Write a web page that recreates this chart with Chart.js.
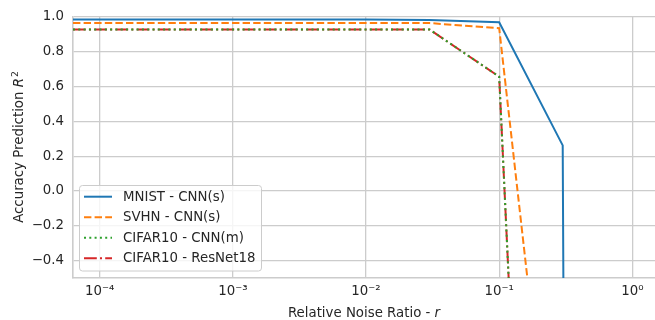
<!DOCTYPE html>
<html>
<head>
<meta charset="utf-8">
<script src="https://cdn.jsdelivr.net/npm/chart.js@4.4.0/dist/chart.umd.min.js"></script>
<style>
  html, body { margin: 0; padding: 0; background: #fff; }
  #wrap { width: 655px; height: 320px; }
</style>
</head>
<body>
<div id="wrap"><canvas id="myChart" width="655" height="320"></canvas></div>
<script>
// noise ratios (x) and accuracy prediction R^2 per model
const noiseRatios = [6.3e-5, 1e-4, 1e-3, 1e-2, 0.03, 0.1, 0.3, 1.0];
const mnistCnnS   = [0.985, 0.985, 0.985, 0.985, 0.983, 0.970, 0.262, -80];
const svhnCnnS    = [0.966, 0.966, 0.966, 0.966, 0.965, 0.936, -2.3, -40];
const cifarCnnM   = [0.928, 0.928, 0.928, 0.928, 0.928, 0.657, -7.1, -60];
const cifarResNet = [0.928, 0.928, 0.928, 0.928, 0.928, 0.657, -7.1, -60];

const seriesLabels = ["MNIST - CNN(s)", "SVHN - CNN(s)", "CIFAR10 - CNN(m)", "CIFAR10 - ResNet18"];
const xTicks = [1e-4, 1e-3, 1e-2, 1e-1, 1];
const xTickLabels = ["10\u207B\u2074", "10\u207B\u00B3", "10\u207B\u00B2", "10\u207B\u00B9", "10\u2070"];
const yTicks = [-0.4, -0.2, 0.0, 0.2, 0.4, 0.6, 0.8, 1.0];

const FONT = "'DejaVu Sans', sans-serif";
const TEXT = "#262626";
const GRID = "#cccccc";

function pts(ys) {
	return noiseRatios.map((x, i) => ({ x: x, y: ys[i] }));
}

// legend drawn inside the axes, lower left, like matplotlib
const innerLegend = {
	id: "innerLegend",
	afterDatasetsDraw(chart) {
		const ctx = chart.ctx;
		const x0 = 79.5, y0 = 185.5, w = 182, h = 85.5, r = 3;
		ctx.save();
		ctx.beginPath();
		ctx.moveTo(x0 + r, y0);
		ctx.arcTo(x0 + w, y0, x0 + w, y0 + h, r);
		ctx.arcTo(x0 + w, y0 + h, x0, y0 + h, r);
		ctx.arcTo(x0, y0 + h, x0, y0, r);
		ctx.arcTo(x0, y0, x0 + w, y0, r);
		ctx.closePath();
		ctx.fillStyle = "rgba(255,255,255,0.8)";
		ctx.fill();
		ctx.strokeStyle = GRID;
		ctx.lineWidth = 1;
		ctx.stroke();

		ctx.font = "13.33px " + FONT;
		ctx.textBaseline = "middle";
		ctx.textAlign = "left";
		chart.data.datasets.forEach((ds, i) => {
			const yc = 196.7 + i * 20.5;
			ctx.beginPath();
			ctx.setLineDash(ds.borderDash || []);
			ctx.strokeStyle = ds.borderColor;
			ctx.lineWidth = ds.borderWidth;
			ctx.moveTo(84, yc);
			ctx.lineTo(112, yc);
			ctx.stroke();
			ctx.setLineDash([]);
			ctx.fillStyle = TEXT;
			ctx.fillText(ds.label, 123, yc + 0.5);
		});
		ctx.restore();
	}
};

// axis titles with italic symbols
const axisTitles = {
	id: "axisTitles",
	afterDraw(chart) {
		const ctx = chart.ctx;
		const a = chart.chartArea;
		ctx.save();
		ctx.fillStyle = TEXT;
		ctx.textBaseline = "alphabetic";
		ctx.textAlign = "left";

		// x title
		const n = "13.33px " + FONT, it = "italic 13.33px " + FONT, sup = "9.3px " + FONT;
		ctx.font = n;
		const p1 = "Relative Noise Ratio - ";
		const w1 = ctx.measureText(p1).width;
		ctx.font = it;
		const w2 = ctx.measureText("r").width;
		let sx = (a.left + a.right) / 2 - (w1 + w2) / 2;
		const by = 316.5;
		ctx.font = n; ctx.fillText(p1, sx, by);
		ctx.font = it; ctx.fillText("r", sx + w1, by);

		// y title, rotated
		ctx.translate(23, (a.top + a.bottom) / 2);
		ctx.rotate(-Math.PI / 2);
		ctx.font = n;
		const q1 = "Accuracy Prediction ";
		const v1 = ctx.measureText(q1).width;
		ctx.font = it;
		const v2 = ctx.measureText("R").width;
		ctx.font = sup;
		const v3 = ctx.measureText("2").width;
		let tx = -(v1 + v2 + v3) / 2;
		ctx.font = n; ctx.fillText(q1, tx, 0);
		ctx.font = it; ctx.fillText("R", tx + v1, 0);
		ctx.font = sup; ctx.fillText("2", tx + v1 + v2 + 1, -5.5);
		ctx.restore();
	}
};

new Chart("myChart", {
	type: "line",
	data: {
		datasets: [
			{ label: seriesLabels[0], data: pts(mnistCnnS), borderColor: "#1f77b4", borderWidth: 2, borderDash: [] },
			{ label: seriesLabels[1], data: pts(svhnCnnS), borderColor: "#ff7f0e", borderWidth: 2, borderDash: [7.4, 3.2] },
			{ label: seriesLabels[2], data: pts(cifarCnnM), borderColor: "#2ca02c", borderWidth: 2, borderDash: [2, 3.3] },
			{ label: seriesLabels[3], data: pts(cifarResNet), borderColor: "#d62728", borderWidth: 2, borderDash: [12.8, 3.2, 2, 3.2] }
		].map(ds => Object.assign(ds, { pointRadius: 0, tension: 0, fill: false, borderCapStyle: "butt" }))
	},
	options: {
		responsive: false,
		animation: false,
		devicePixelRatio: 1,
		layout: { padding: { top: 15, right: 0, left: 0, bottom: 0 } },
		plugins: {
			legend: { display: false },
			tooltip: { enabled: false }
		},
		scales: {
			x: {
				type: "logarithmic",
				min: 6.3e-5,
				max: 1.48,
				afterBuildTicks: s => { s.ticks = xTicks.map(v => ({ value: v })); },
				afterFit: s => { s.height = 42; },
				ticks: {
					autoSkip: false,
					maxRotation: 0,
					padding: 6,
					color: TEXT,
					font: { family: FONT, size: 13.33 },
					callback: (v) => {
						const i = xTicks.findIndex(t => Math.abs(Math.log10(t) - Math.log10(v)) < 1e-6);
						return i >= 0 ? xTickLabels[i] : "";
					}
				},
				grid: { color: GRID, lineWidth: 1.3, drawTicks: false },
				border: { display: true, color: GRID, width: 1.6 }
			},
			y: {
				type: "linear",
				min: -0.5,
				max: 1.0,
				afterBuildTicks: s => { s.ticks = yTicks.map(v => ({ value: v })); },
				afterFit: s => { s.width = 73; },
				ticks: {
					padding: 9,
					color: TEXT,
					font: { family: FONT, size: 13.33 },
					callback: v => (Math.abs(v) < 1e-9 ? "0.0" : v.toFixed(1).replace("-", "\u2212"))
				},
				grid: { color: GRID, lineWidth: 1.3, drawTicks: false },
				border: { display: true, color: GRID, width: 1.6 }
			}
		}
	},
	plugins: [innerLegend, axisTitles]
});
</script>
</body>
</html>
